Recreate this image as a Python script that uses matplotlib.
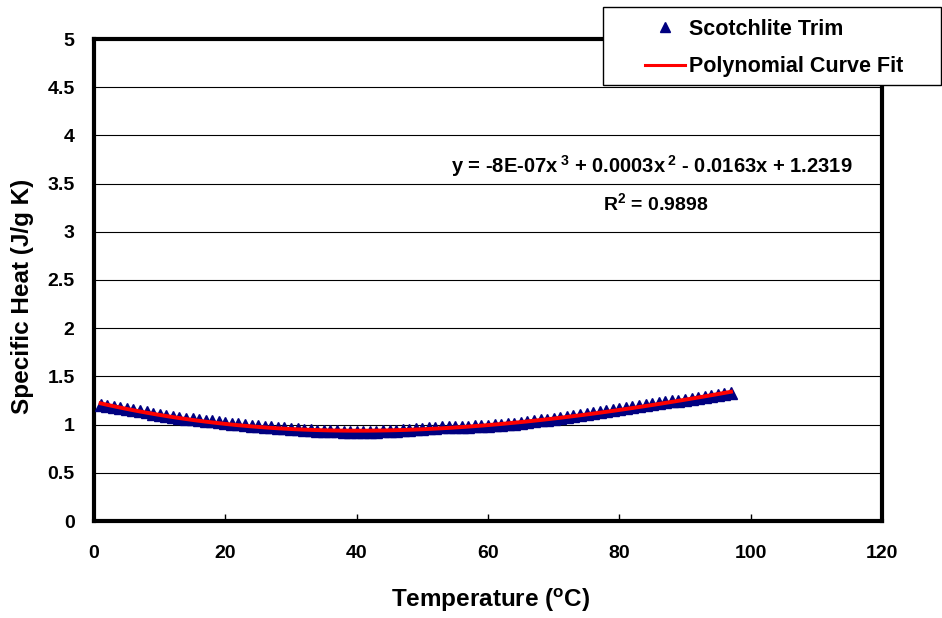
import numpy as np
import matplotlib
matplotlib.use("Agg")
import matplotlib.pyplot as plt
from matplotlib.lines import Line2D
from matplotlib.patches import Rectangle

plt.rcParams['font.family'] = ['Liberation Sans', 'DejaVu Sans']
plt.rcParams['font.weight'] = 'bold'
plt.rcParams['mathtext.fontset'] = 'custom'
plt.rcParams['mathtext.bf'] = 'Liberation Sans:bold'
plt.rcParams['mathtext.rm'] = 'Liberation Sans:bold'
plt.rcParams['mathtext.default'] = 'bf'

# Scotchlite Trim - specific heat readings, one per degree
temperature = list(range(1, 98))
specific_heat = [
    1.20, 1.19, 1.18, 1.17, 1.16, 1.15, 1.14, 1.13, 1.115, 1.10,
    1.09, 1.08, 1.07, 1.06, 1.055, 1.05, 1.04, 1.035, 1.025, 1.02,
    1.01, 1.005, 1.00, 0.99, 0.985, 0.98, 0.97, 0.965, 0.96, 0.955,
    0.95, 0.945, 0.94, 0.935, 0.935, 0.93, 0.93, 0.925, 0.925, 0.925,
    0.925, 0.925, 0.925, 0.93, 0.93, 0.935, 0.94, 0.945, 0.95, 0.955,
    0.96, 0.965, 0.97, 0.975, 0.975, 0.975, 0.98, 0.985, 0.99, 0.99,
    0.995, 1.00, 1.005, 1.01, 1.02, 1.03, 1.035, 1.045, 1.05, 1.06,
    1.07, 1.08, 1.09, 1.10, 1.11, 1.12, 1.13, 1.14, 1.155, 1.165,
    1.175, 1.185, 1.19, 1.20, 1.21, 1.22, 1.23, 1.24, 1.25, 1.26,
    1.27, 1.28, 1.29, 1.295, 1.305, 1.315, 1.325,
]

x_ticks = [0, 20, 40, 60, 80, 100, 120]
y_ticks = [0, 0.5, 1, 1.5, 2, 2.5, 3, 3.5, 4, 4.5, 5]
y_tick_labels = ['0', '0.5', '1', '1.5', '2', '2.5', '3', '3.5', '4', '4.5', '5']

eq_text = r'y = -8E-07x$^{\:3}$ + 0.0003x$^{\:2}$ - 0.0163x + 1.2319'
r2_text = r'R$^{2}$ = 0.9898'

# cubic trendline like excel
coef = np.polyfit(temperature, specific_heat, 3)
fit_y = np.polyval(coef, temperature)

fig = plt.figure(figsize=(9.42, 6.18), dpi=100)
ax = fig.add_axes([94/942, 1-521/618, (882-94)/942, (521-39)/618])

ax.plot(temperature, specific_heat, linestyle='none', marker='^', ms=9,
        color='#000080', mec='#000080', zorder=3)
ax.plot(temperature, fit_y, color='#ff0000', lw=2.8, zorder=4)

ax.set_xlim(0, 120)
ax.set_ylim(0, 5)
ax.set_xticks(x_ticks)
ax.set_yticks(y_ticks)
ax.set_yticklabels(y_tick_labels)
ax.tick_params(axis='x', direction='in', length=5, width=1, pad=17, labelsize=14)
ax.tick_params(axis='y', length=0, pad=14, labelsize=14)
for lab in ax.get_xticklabels() + ax.get_yticklabels():
    lab.set_fontweight('bold')

ax.yaxis.grid(True, color='black', lw=0.8)
ax.set_axisbelow(True)
for s in ax.spines.values():
    s.set_linewidth(3)
    s.set_color('black')

ax.set_xlabel('Temperature ($^{o}$C)', fontsize=17.5, fontweight='bold')
ax.xaxis.set_label_coords(0.504, -0.136)
ax.set_ylabel('Specific Heat (J/g K)', fontsize=17.5, fontweight='bold')
ax.yaxis.set_label_coords(-0.076, 0.465)

ax.text(652/942, 1-166/618, eq_text, transform=fig.transFigure, ha='center',
        va='center', fontsize=14.5, fontweight='bold')
ax.text(656/942, 1-203/618, r2_text, transform=fig.transFigure, ha='center',
        va='center', fontsize=14, fontweight='bold')

# legend box (sits over the plot frame)
box = Rectangle((603/942, 1-85/618), (941-603)/942, (85-7)/618,
                transform=fig.transFigure, facecolor='white', edgecolor='black',
                lw=1, zorder=5)
fig.patches.append(box)

handles = [Line2D([], [], linestyle='none', marker='^', ms=7.5, color='#000080'),
           Line2D([], [], color='#ff0000', lw=2.2)]
leg = fig.legend(handles, ['Scotchlite Trim', 'Polynomial Curve Fit'],
                 loc='upper left', bbox_to_anchor=(645/942, 1-19/618),
                 frameon=False, borderpad=0, borderaxespad=0,
                 handlelength=1.85, handletextpad=0.2,
                 labelspacing=0.75, numpoints=1,
                 prop={'size': 15.5, 'weight': 'bold'})
leg.set_zorder(6)

fig.savefig('out.png', dpi=100)
